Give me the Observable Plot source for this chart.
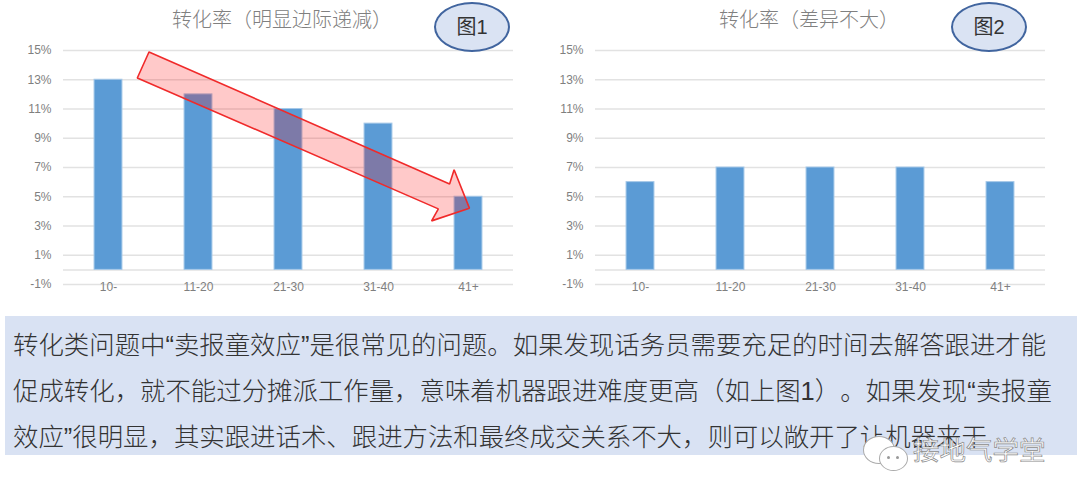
<!DOCTYPE html>
<html lang="zh">
<head>
<meta charset="utf-8">
<script src="https://cdn.jsdelivr.net/npm/d3@7"></script>
<script src="https://cdn.jsdelivr.net/npm/@observablehq/plot@0.6"></script>
<style>
html,body{margin:0;padding:0;background:#fff;width:1080px;height:499px;overflow:hidden}
body{position:relative;font-family:"Noto Sans","Noto Sans CJK SC",sans-serif}
.chart{position:absolute;top:0}
.chart svg{display:block;background:transparent}
.title{position:absolute;top:5px;font-size:20px;line-height:28px;color:#808080;white-space:nowrap;transform:translateX(-50%);font-family:"Noto Sans CJK SC",sans-serif;font-weight:300}
.badge{position:absolute;top:2px;width:72px;height:46px;border-radius:50%;background:#dae3f3;border:2px solid #41659f;color:#333;font-size:20px;line-height:46px;text-align:center;font-family:"Liberation Sans","Noto Sans CJK SC",sans-serif}
.note{position:absolute;left:5px;top:316px;width:1072px;height:139px;background:#d9e2f3}
.note div{position:absolute;left:8px;font-size:25.42px;line-height:46px;color:#333;white-space:nowrap;font-weight:300;text-spacing-trim:space-all;font-family:"Liberation Sans","Noto Sans CJK SC",sans-serif}
.wm{position:absolute;left:913px;top:431px;font-size:26.5px;line-height:36px;color:#fff;-webkit-text-stroke:.7px #8a8a8a;white-space:nowrap;font-family:"Noto Sans CJK SC",sans-serif}
.bub{position:absolute;background:#fff;border:1px solid #aaa;border-radius:50%}
.eye{position:absolute;width:3px;height:3px;border-radius:50%;background:#999}
</style>
</head>
<body>
<div id="c1" class="chart" style="left:0"></div>
<div id="c2" class="chart" style="left:540px"></div>
<div class="title" style="left:282px">转化率（明显边际递减）</div>
<div class="title" style="left:809px">转化率（差异不大）</div>
<div class="badge" style="left:434px">图1</div>
<div class="badge" style="left:951px">图2</div>
<div class="note">
  <div style="top:6px">转化类问题中“卖报童效应”是很常见的问题。如果发现话务员需要充足的时间去解答跟进才能</div>
  <div style="top:52px">促成转化，就不能过分摊派工作量，意味着机器跟进难度更高（如上图1）。如果发现“卖报童</div>
  <div style="top:98px">效应”很明显，其实跟进话术、跟进方法和最终成交关系不大，则可以敞开了让机器来干</div>
</div>
<div class="bub" style="left:863px;top:436px;width:30px;height:26px"></div>
<div class="bub" style="left:879px;top:446px;width:27px;height:23px"></div>
<div class="eye" style="left:887px;top:456px"></div>
<div class="eye" style="left:896px;top:456px"></div>
<div class="wm">接地气学堂</div>
<script>
const categories = ["10-", "11-20", "21-30", "31-40", "41+"];
const rates1 = [13, 12, 11, 10, 5];
const rates2 = [6, 7, 7, 7, 6];
const yTicks = [-1, 1, 3, 5, 7, 9, 11, 13, 15];
const arrowX = [0.45, 3.79, 3.84, 4.01, 3.59, 3.665, 0.32, 0.45];
const arrowY = [14.9, 5.87, 6.85, 4.22, 3.35, 4.17, 13.12, 14.9];
const barHalf = 0.155;

function chart(rates, marginLeft, marginRight, withArrow) {
  const bars = rates.map((v, i) => ({i, v}));
  const arrow = arrowX.map((x, k) => ({x, y: arrowY[k]}));
  return Plot.plot({
    width: 540, height: 300,
    marginTop: 50, marginBottom: 16, marginLeft, marginRight,
    x: {type: "linear", domain: [-0.5, 4.5]},
    y: {domain: [-1, 15]},
    marks: [
      Plot.ruleY(yTicks, {stroke: "#e2e2e2", strokeWidth: 1.5}),
      Plot.ruleY([0], {stroke: "#e2e2e2", strokeWidth: 1.5}),
      Plot.rect(bars, {x1: d => d.i - barHalf, x2: d => d.i + barHalf, y1: 0, y2: "v",
        fill: "#5b9bd5", stroke: "#a5c8e8", strokeWidth: 1}),
      Plot.axisY({ticks: yTicks, tickValues: yTicks, tickSize: 0, tickPadding: 12,
        tickFormat: d => d + "%", label: null, fontSize: 12, fill: "#7f7f7f",
        fontFamily: "Liberation Sans, sans-serif", lineHeight: 1}),
      Plot.axisX({tickValues: d3.range(categories.length), tickFormat: i => categories[i],
        tickSize: 0, tickPadding: -2, label: null, fontSize: 12, fill: "#7f7f7f",
        fontFamily: "Liberation Sans, sans-serif"}),
      withArrow ? Plot.line(arrow, {x: "x", y: "y", fill: "#ff0000", fillOpacity: 0.21,
        stroke: "#f02a2a", strokeWidth: 1.6, curve: "linear", strokeLinejoin: "miter"}) : null
    ]
  });
}
document.getElementById("c1").append(chart(rates1, 63, 27, true));
document.getElementById("c2").append(chart(rates2, 55, 35, false));
</script>
</body>
</html>
